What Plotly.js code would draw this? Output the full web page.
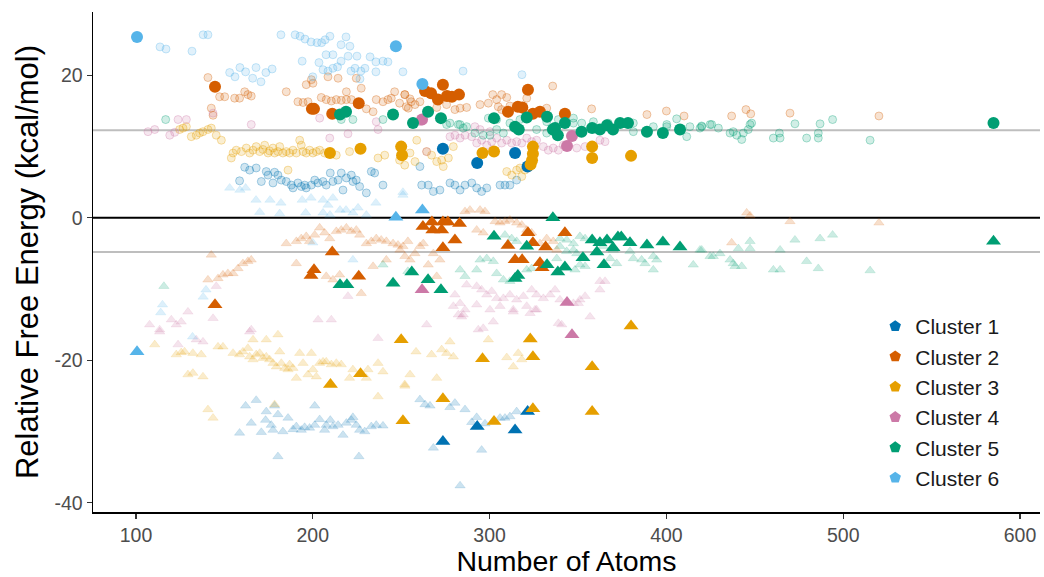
<!DOCTYPE html>
<html>
<head>
<meta charset="utf-8">
<script src="https://cdn.plot.ly/plotly-3.0.1.min.js"></script>
<style>html,body{margin:0;padding:0;background:#fff;}#chart{width:1044px;height:577px;}</style>
</head>
<body>
<div id="chart"></div>
<script>
// ---------- DATA (x = number of atoms, y = relative free energy, kcal/mol) ----------
const clusterNames = ["Cluster 1", "Cluster 2", "Cluster 3", "Cluster 4", "Cluster 5", "Cluster 6"];

// Cluster 1
const c1FadedCircles = [[161.5,7.1],[164.3,6.7],[168,7.0],[158.6,5.2],[170.9,5.1],[173.7,6.5],[174.7,6.0],[177.5,4.9],[178.4,6.4],[180.3,6.0],[182.2,5.3],[185,5.1],[187.9,4.6],[188.8,4.2],[191.6,4.9],[193.5,4.4],[195.4,4.6],[196.3,4.2],[199.2,4.6],[201.1,5.3],[202.9,4.9],[205.8,5.1],[207.6,4.6],[209.9,6.3],[211.4,5.1],[214.3,5.3],[216.1,6.3],[217.1,3.9],[219,5.6],[221.8,6.0],[222.7,5.1],[224.6,5.3],[226.5,4.4],[230.3,3.5],[233.1,6.5],[235,6.3],[239.7,4.6],[261.6,4.6],[265.3,4.6],[268.2,3.7],[271.9,3.9],[277.6,4.9],[280.4,4.6],[283.3,3.9],[286.1,4.6],[289.9,4.9],[292.7,4.2],[295.5,3.7],[298.4,4.2],[305.9,4.6],[308.7,4.6],[311.5,4.6],[315.3,5.3],[260.6,7.2]];
const c1FadedTriangles = [[162,-26.4],[168,-25.6],[173.7,-27.2],[178.4,-26.4],[180.3,-27.6],[186,-28.1],[201.1,-26.4],[158.6,-30.2],[165.2,-28.8],[170.9,-30.1],[173.3,-28.4],[176.5,-29.1],[177.5,-29.8],[183.1,-30],[188.8,-29.7],[190.7,-29.3],[193.5,-29.8],[195.4,-29.4],[198.2,-29.5],[201.1,-29.1],[203.9,-28.3],[206.7,-29.8],[207.6,-29.1],[209.9,-28.4],[211.4,-29.3],[214.3,-29.1],[217.1,-30.5],[219,-28.8],[221.8,-28.4],[222.7,-28],[224.6,-29.1],[226.5,-29.8],[229.4,-30],[233.1,-29.3],[235.9,-29.1],[239.7,-29.2],[180.3,-33.5],[226.1,-33.5],[260.6,-25.5],[263.5,-26.2],[266.3,-26.4],[277.6,-26.6],[280.4,-26],[286.1,-26.9],[289.9,-28.7],[292.7,-28],[297.4,-28.9],[305.9,-28.1],[308.7,-28.1],[311.5,-27.9],[315.3,-27.2],[268.2,-32.3],[295.5,-32.6],[283.3,-37.6]];
const c1BoldCircles = [[273.6,9.7],[293,7.7],[314.4,9.1],[321.5,7.2]];
const c1BoldTriangles = [[273.6,-31.4],[293,-29.3],[314.4,-29.8],[321.5,-27.2]];

// Cluster 2
const c2FadedCircles = [[140.7,19.7],[147.3,17],[150.2,17],[155.8,16.8],[158.6,16.8],[161.5,17.7],[163.3,17.3],[165.2,17.1],[185,17.7],[196.3,18.7],[199.2,19.4],[200.1,18.9],[208.6,19.8],[214.3,19.6],[219,17.7],[224.6,19.6],[227.4,18.2],[191.6,16.3],[194.5,16.2],[197.3,16.3],[204.8,16.9],[207.6,16.6],[210.5,16.4],[213.3,16.6],[216.1,16.5],[219,16.6],[221.8,16.6],[230.3,15.3],[234.1,14.9],[235.9,16.6],[239.7,16.3],[242.5,16.6],[244.4,16.8],[246.3,17.7],[249.1,16.1],[252,17.3],[252.9,15.6],[255.7,16.3],[142.6,15.4],[143.6,14.4],[252.1,17.3],[255,16.7],[254,15.4],[257.8,15.9],[260.6,16.3],[270.1,15.5],[275.7,15.9],[280.4,15.2],[283.3,15.4],[287,15.5],[294.6,15.9],[299.3,16.1],[301.8,17.3],[304,16.6],[306.8,17.3],[309.7,16.9],[304.9,15.6],[306.8,15.2],[311.5,15.7],[321,16.8],[335.7,18.5],[332.3,15.4],[357.7,15.3],[389,14.5],[400,15.0],[410,14.3],[436.9,14.3],[445,15.2],[447.7,14.6],[469.9,14.7],[520.2,14.3]];
const c2FadedTriangles = [[142.6,-5.2],[140.7,-8.7],[146.4,-8.5],[149.2,-8],[152,-7.8],[154.9,-7.8],[157.7,-7.1],[160.5,-6.4],[163.3,-6.1],[165.2,-5.9],[185,-3.6],[190.7,-3.3],[193.5,-2.9],[196.3,-2.6],[198.2,-3.3],[201.1,-2.4],[203.9,-1.4],[206.7,-2.1],[209.6,-2.9],[213.3,-1.9],[216.1,-1.7],[219,-1.4],[221.8,-1.9],[224.6,-1.7],[226.5,-2.4],[230.3,-3.6],[233.1,-3.3],[235.9,-2.9],[238.7,-3.1],[241.6,-3.3],[245.4,-3.6],[248.2,-3.8],[251,-4],[253.8,-3.3],[190.7,-6.4],[207.6,-8.2],[211.4,-8.7],[215.2,-8],[227.4,-10.6],[234.1,-6.8],[241.6,-5.9],[249.3,-4.5],[252.1,-5.4],[255,-5.9],[257.8,-5],[260.6,-4],[262.5,-3.6],[265.3,-6.6],[268.2,-5],[271.9,-5.9],[286.1,0.9],[288.9,1.1],[294.6,1.1],[297.4,0.9],[303.1,-0.5],[305.9,-0.7],[308.7,-0.5],[311.5,-0.3],[315.3,-0.7],[318.2,-1],[321,-1.7],[323.8,-2.1],[328.5,-3.6],[332.3,-2.9],[336,-3.3],[338,-4.5],[292.7,-1.7],[296.4,-2.1],[270.1,-8.2],[445.4,0.7],[447.3,0.3],[469.9,-0.5],[436.9,-3.5],[520.2,-0.7]];
const c2BoldCircles = [[144.7,18.4],[199.5,15.3],[200.7,15.3],[211,14.6],[226,16.1],[263.5,17.8],[266.9,17.5],[270.8,16.6],[273.6,18.7],[275.9,17.1],[278.7,17.0],[282.7,17.3],[310.4,14.9],[316,15.6],[318.5,15.5],[321.7,18.0],[324.5,14.6],[328.5,14.9],[342.6,14.6]];
const c2BoldTriangles = [[144.7,-12.2],[211,-4.8],[200.7,-7.3],[199,-8.1],[226,-8.2],[262.3,-1.2],[267.4,-0.6],[267.9,-1.7],[272.9,-1.7],[273.6,-0.6],[276.4,-0.6],[280.4,-3.1],[283,-0.8],[273.6,-4.2],[310.4,-3.9],[314.4,-5.9],[318.4,-5.9],[321.7,-2.1],[324.5,-3.5],[328.5,-6.3],[329.7,-7],[331.7,-4.1],[342.6,-2.1]];

// Cluster 3
const c3FadedCircles = [[124.7,12.4],[126.6,12.6],[128.5,12.8],[131.3,11.4],[134.1,11.6],[136,11.9],[137.9,12.1],[140.7,12.4],[142.6,12.6],[145.4,11.6],[148.3,10.9],[154.9,9.1],[156.7,9.5],[153.9,8.4],[159.6,9.3],[162.4,9.8],[164.3,9.1],[166.2,9.5],[168,10],[170,9.3],[171.8,9.6],[172.8,10.2],[174.7,9.1],[175.6,9.4],[177.5,9.8],[178.4,9.1],[180.3,9.3],[181.3,10],[183.1,9.1],[185,9.3],[186.9,9.1],[188.8,9.5],[190.7,9.1],[192.6,10.9],[193.5,10.2],[194.5,9.3],[196.3,9.1],[198.2,9.5],[200.1,9.1],[202,9.3],[203.9,9.5],[206.7,9.1],[213.3,8.8],[220.8,9.3],[236.9,8.4],[240.7,8.8],[249.1,8.1],[252,7.4],[186,6.7],[255,9.1],[257.8,7.9],[258.8,10.9],[264.4,9.3],[267.2,8.8],[270.1,7.9],[272.9,8.1],[276.7,8.4],[279.5,10],[273.8,7.2],[309.7,6.5],[312.5,6.0],[315.3,6.7],[317.2,7.0],[318.2,5.8],[320,6.7]];
const c3FadedTriangles = [[110.6,-17.8],[122.8,-19.2],[125.6,-18.9],[127.5,-18.8],[132.2,-19],[136.9,-19.2],[146.4,-18.1],[149.2,-18.1],[154.9,-19],[158.6,-19.2],[160.5,-18.8],[163.3,-18.3],[164.3,-19.5],[166.2,-19.9],[168,-19.2],[170,-19],[171.8,-19.7],[173.7,-19.5],[175.6,-19.9],[177.5,-20.4],[179.4,-20.9],[173.7,-17.1],[181.3,-18.8],[182.2,-20.4],[184.1,-21.1],[186,-21.3],[186.9,-20.6],[188.8,-21.1],[190.7,-22.5],[192.6,-19],[194.5,-20.4],[197.3,-22],[199.2,-19],[200.1,-21.3],[202,-22.3],[203.9,-20.4],[205.8,-20.2],[207.6,-20.2],[210.5,-20.6],[213.3,-20.4],[216.1,-20.6],[220.8,-22.5],[222.7,-21.3],[231.2,-21.3],[230.3,-22.5],[236.9,-20.4],[239.7,-21.6],[252,-23.4],[236.9,-25.1],[129.4,-22],[132.2,-21.8],[137.9,-22.3],[140.7,-26.9],[143.6,-28.1],[178.4,-26.2],[180.3,-16.4],[166.2,-17.1],[258.4,-18.8],[267.2,-19.2],[272.9,-18.5],[277.6,-17.4],[279.5,-19.5],[275.7,-19],[299.3,-17.1],[309.7,-19.6],[313.4,-20.9],[316.2,-19],[318.2,-19.9],[255,-22],[252.1,-23.6],[270.1,-22.5]];
const c3BoldCircles = [[209.7,9.1],[227,9.7],[250,10],[250.5,8.8],[296,9.1],[302.5,9.3],[324.5,10.0],[324.5,9.0],[324,8.1],[323.2,7.5],[358,10],[358,8.4],[380,8.7]];
const c3BoldTriangles = [[250,-17.1],[227,-21.9],[210,-23.4],[251,-28.5],[323,-17],[324.5,-19.5],[296,-19.8],[358,-20.9],[380,-15.2],[273.6,-25.4],[302.5,-28.6],[324.5,-26.8],[358,-27.2]];

// Cluster 4
const c4FadedCircles = [[260.6,13.5],[277.6,11.4],[280.4,11.6],[283.3,11.2],[286.1,11.6],[289.9,11.4],[292.7,10.5],[295.5,10.9],[298.4,10.2],[301.2,10.7],[304,11.2],[306.8,10.5],[309.7,10.9],[312.5,10.5],[315.3,10.7],[318.2,10.5],[321,11.2],[323.8,10.7],[326.6,10.9],[330.4,10],[333.2,9.5],[336,9.8],[338.9,9.5],[341.7,10.2],[349.3,9.8],[354,10],[362.4,10.9],[365.3,10.7],[264.4,9.3],[291.7,12.8],[294.6,12.4],[300.2,12.1],[106.8,12.1],[110.6,12.4],[119.1,11.6],[121.9,12],[165.2,13.1],[209.6,11.2],[219.9,11.8],[236.9,12.4],[123.8,13.8],[128.5,13.8],[143.6,14.7],[203.9,14],[235.9,13.5]];
const c4FadedTriangles = [[107.7,-15],[113.4,-15.7],[120,-14.3],[122.8,-15],[125.6,-14.6],[129.4,-13.2],[143.6,-14.1],[145.4,-9.6],[165.2,-15.7],[203,-14.3],[210.5,-14.3],[219.9,-11],[113.4,-16],[123.8,-17.8],[134.1,-17.1],[137.9,-17.4],[164.3,-16],[236.9,-16.9],[287,-9.4],[292.7,-9.6],[295.5,-10.1],[298.4,-10.8],[301.2,-10.3],[304,-11.3],[307.8,-11.3],[311.5,-10.8],[315.3,-11.5],[319.1,-11],[323.8,-10.1],[326.6,-10.8],[330.4,-11.3],[334.2,-10.8],[337,-10.1],[339.8,-11.5],[347.4,-12],[351.1,-11.5],[354,-11],[362.4,-8.9],[365.3,-8.9],[362.4,-10.1],[280.4,-10.8],[283.3,-12],[286.1,-12.9],[292.7,-12.2],[300.2,-12.9],[305.9,-12.4],[313.4,-12.9],[321,-12.4],[325.7,-12.9],[279.5,-12.4],[284.2,-13.9],[293.6,-15.7],[296.4,-15.5],[322.9,-13.4],[338.9,-14.8],[356.8,-13.9],[264.4,-15],[282.3,-13.6],[285.1,-13.6],[302.1,-14.6],[313.4,-13.2],[326.6,-12.9],[340.8,-15],[350.2,-12]];
const c4BoldCircles = [[261.8,13.8],[343.8,10.1],[346.6,11.5]];
const c4BoldTriangles = [[261.8,-10.1],[343.8,-11.9],[346.6,-16.4]];

// Cluster 5
const c5FadedCircles = [[116.8,13.8],[216.1,13.8],[222.7,13.8],[239.7,13.8],[277.6,13.3],[283.3,13.1],[287,12.8],[299.3,14],[304,13.8],[311.5,13.3],[317.2,13.8],[332.3,13.5],[338.9,13.8],[347.4,14],[352.1,13.3],[358.7,13.5],[367.1,13.3],[381.3,13.3],[392.6,12.8],[400.2,13.1],[405.8,13.9],[413.3,12.8],[419.9,12.9],[425.6,13.1],[275.7,13.1],[282.3,13.1],[285.1,12.6],[291.7,11.9],[296.4,11.6],[300.2,11.6],[304,12.4],[307.8,11.9],[326.6,12.4],[332.3,11.9],[347.4,13.3],[381.3,12.1],[400.2,12.8],[411.5,11.4],[419,12.6],[420,12.8],[424.7,13.1],[429.4,12.6],[436,11.9],[437.8,12.1],[439.8,11.6],[442.6,11],[443.5,11.9],[446.3,12.4],[447.3,13.1],[448.2,13.3],[460.5,11.2],[463.9,11.9],[464.3,11.2],[472.7,13.2],[479.3,11.2],[485.9,11.9],[485.9,11.2],[486.9,13.2],[494,13.8],[515.2,10.9]];
const c5FadedTriangles = [[115.8,-9.6],[239.7,-6.6],[253.8,-7.5],[308.7,-2.4],[312.5,-2.9],[315.3,-3.3],[339.8,-2.9],[343.6,-3.1],[347.4,-3.6],[351.1,-2.6],[354,-2.9],[339.8,-4],[343.6,-4.7],[347.4,-4.5],[349.3,-5],[294.6,-5.9],[298.4,-5.7],[302.1,-6.1],[283.3,-7.3],[286.1,-8.2],[292.7,-7.3],[304,-7.8],[307.8,-8.7],[311.5,-8.9],[321,-7.3],[323.8,-7.1],[332.3,-6.6],[338,-5.7],[343.6,-7.1],[348.3,-7.3],[351.1,-6.6],[354,-6.8],[368.1,-5.7],[371.9,-6.4],[381.3,-5.7],[386,-5.9],[392.6,-5.4],[394.5,-5.9],[387.9,-6.4],[392.6,-7.3],[415.2,-6.6],[419,-4.5],[426.5,-5.4],[370,-4.5],[379.4,-4.7],[364.3,-4],[420,-4.5],[424.7,-5.4],[430.3,-5],[436,-5.9],[437.8,-6.4],[438.8,-6.8],[442.6,-6.8],[440.7,-4.3],[447.3,-3.3],[447.3,-4.3],[464.3,-4.5],[460.5,-7.3],[464.3,-7.3],[472.7,-3.1],[479.3,-6.1],[485.9,-7.1],[486.9,-2.9],[494,-2.4],[515.2,-7.4]];
const c5BoldCircles = [[215.4,14.5],[218.8,14.9],[245.4,14.5],[256.7,13.3],[265.2,14.9],[272.5,14.0],[302.5,14.0],[314.4,12.8],[316.5,12.4],[321,14.1],[332.5,14.2],[337,12.6],[342.6,13.3],[335.8,12.4],[338.6,11.6],[352,12.1],[358,12.6],[362.4,12.4],[366.4,13],[369.8,12.4],[373.8,13.3],[378.3,13.3],[389,12.1],[398,11.9],[407.7,12.4],[585,13.3]];
const c5BoldTriangles = [[215.4,-9.4],[219.3,-9.4],[245.4,-9.2],[256,-7.6],[265.2,-8.7],[272.5,-10.1],[302.5,-2.6],[314.4,-8.5],[316,-8.1],[321,-4.0],[332.5,-6.6],[338.6,-7.6],[342.6,-6.9],[335.8,0.0],[352.8,-5.6],[358,-3.1],[360.7,-4.8],[362.4,-3.5],[364.7,-6.6],[366.4,-3.1],[369.8,-4.2],[372.6,-2.7],[374.5,-2.7],[379.4,-3.5],[389,-3.8],[398,-3.4],[407.7,-4.1],[585,-3.3]];

// Cluster 6
const c6FadedCircles = [[138,25.7],[140.7,25.7],[113.6,24],[117,23.7],[131.7,23.4],[182,25.7],[190,25.7],[192.8,25.5],[195.6,25.1],[199,24.7],[202.4,24.6],[205,24.6],[207,25],[209.7,25.5],[207.5,22.9],[211.4,22.9],[216,24.3],[218.8,25.4],[221,24.1],[194,22],[203.5,21.8],[205.8,20.8],[208.6,20.6],[211.4,21],[214,21.2],[216,22],[220,22.7],[225,22.7],[223.9,21],[221.6,20.6],[227.2,20.6],[229.5,21],[232.4,22.6],[235.7,21.9],[239.7,22],[242.5,21.9],[235.7,20.5],[226.7,19.5],[251,20.5],[153,20.4],[156,19.8],[158.8,21.1],[162,20.5],[166,19.6],[167.9,21.1],[170.7,19.1],[173.5,20.4],[177,20.9],[200,19.8],[285,20.6],[318.3,20.1]];
const c6FadedTriangles = [[153,4.2],[158.8,3.9],[162,4.2],[167.9,2.5],[175.8,2.5],[182,2.1],[194,2.5],[199,2.8],[205.8,2.5],[208.6,1.8],[211.4,2.8],[215.4,1.1],[218.8,1.1],[225.6,1.4],[235.7,2.1],[251,3.6],[170,0.8],[181.3,0.6],[196,0.7],[205.8,0.7],[209.7,0.4],[222.7,0.7],[230.3,0.4],[200,-3.5],[222.7,-5.9],[139.6,-10.1],[138,-11.1],[115,-12.2],[114,-13.3],[132,-16.7],[251,3.2]];
const c6BoldCircles = [[100.6,25.4],[247,24.1],[262,18.8]];
const c6BoldTriangles = [[100.6,-18.8],[247,0.1],[262,1.1]];

// reference lines (kcal/mol)
const zeroLine = 0;
const upperRefLine = 12.3;
const lowerRefLine = -4.8;

const xTicks = [100, 200, 300, 400, 500, 600];
const yTicks = [-40, -20, 0, 20];

// ---------- STYLE ----------
const colors = ["0,114,178", "213,94,0", "230,159,0", "204,121,167", "0,158,115", "86,180,233"];
const hexColors = ["#0072B2", "#D55E00", "#E69F00", "#CC79A7", "#009E73", "#56B4E9"];

const groups = [
  [c1FadedCircles, c1FadedTriangles, c1BoldCircles, c1BoldTriangles],
  [c2FadedCircles, c2FadedTriangles, c2BoldCircles, c2BoldTriangles],
  [c3FadedCircles, c3FadedTriangles, c3BoldCircles, c3BoldTriangles],
  [c4FadedCircles, c4FadedTriangles, c4BoldCircles, c4BoldTriangles],
  [c5FadedCircles, c5FadedTriangles, c5BoldCircles, c5BoldTriangles],
  [c6FadedCircles, c6FadedTriangles, c6BoldCircles, c6BoldTriangles]
];

const xs = a => a.map(p => p[0]);
const ys = a => a.map(p => p[1]);

const traces = [];
// faded layer
groups.forEach((g, i) => {
  traces.push({x: xs(g[0]), y: ys(g[0]), type: 'scatter', mode: 'markers', showlegend: false, hoverinfo: 'x+y',
    marker: {symbol: 'circle', size: 8, color: `rgba(${colors[i]},0.18)`, line: {color: `rgba(${colors[i]},0.32)`, width: 1}}});
  traces.push({x: xs(g[1]), y: ys(g[1]), type: 'scatter', mode: 'markers', showlegend: false, hoverinfo: 'x+y',
    marker: {symbol: 'triangle-up', size: 9, color: `rgba(${colors[i]},0.2)`, line: {color: `rgba(${colors[i]},0.25)`, width: 0.5}}});
});
// bold layer
groups.forEach((g, i) => {
  traces.push({x: xs(g[2]), y: ys(g[2]), type: 'scatter', mode: 'markers', showlegend: false, hoverinfo: 'x+y',
    marker: {symbol: 'circle', size: 12, color: hexColors[i], line: {width: 0}}});
  traces.push({x: xs(g[3]), y: ys(g[3]), type: 'scatter', mode: 'markers', showlegend: false, hoverinfo: 'x+y',
    marker: {symbol: 'triangle-up', size: 13, color: hexColors[i], line: {width: 0}}});
});
// legend entries
clusterNames.forEach((n, i) => {
  traces.push({x: [null], y: [null], type: 'scatter', mode: 'markers', name: n, showlegend: true,
    marker: {symbol: 'pentagon', size: 12, color: hexColors[i]}});
});

const layout = {
  width: 1044, height: 577,
  paper_bgcolor: '#ffffff', plot_bgcolor: '#ffffff',
  margin: {l: 93, r: 4, t: 12, b: 65, pad: 0},
  font: {family: 'Liberation Sans, Arial, sans-serif', color: '#000'},
  showlegend: true,
  legend: {x: 0.826, y: 0.412, xanchor: 'left', yanchor: 'top', bgcolor: 'rgba(0,0,0,0)',
    font: {size: 21, color: '#1a1a1a'}, tracegroupgap: 0, itemwidth: 30},
  xaxis: {
    range: [75.7, 611.3], tickvals: xTicks, ticktext: xTicks.map(String),
    showgrid: false, zeroline: false, showline: true, linecolor: '#000', linewidth: 1.5,
    ticks: 'outside', ticklen: 5, tickwidth: 1.2, tickcolor: '#333',
    tickfont: {size: 19.5, color: '#4D4D4D'},
    title: {text: 'Number of Atoms', font: {size: 28.5, color: '#000'}, standoff: 10}
  },
  yaxis: {
    range: [-41.3, 28.9], tickvals: yTicks, ticktext: yTicks.map(String),
    showgrid: false, zeroline: false, showline: true, linecolor: '#000', linewidth: 1.5,
    ticks: 'outside', ticklen: 5, tickwidth: 1.2, tickcolor: '#333',
    tickfont: {size: 19.5, color: '#4D4D4D'},
    title: {text: 'Relative Free Energy (kcal/mol)', font: {size: 31, color: '#000'}, standoff: 6}
  },
  shapes: [
    {type: 'line', xref: 'paper', x0: 0, x1: 1, yref: 'y', y0: upperRefLine, y1: upperRefLine, layer: 'below', line: {color: '#BEBEBE', width: 2}},
    {type: 'line', xref: 'paper', x0: 0, x1: 1, yref: 'y', y0: lowerRefLine, y1: lowerRefLine, layer: 'below', line: {color: '#BEBEBE', width: 2}},
    {type: 'line', xref: 'paper', x0: 0, x1: 1, yref: 'y', y0: zeroLine, y1: zeroLine, layer: 'below', line: {color: '#000', width: 2}}
  ]
};

Plotly.newPlot('chart', traces, layout, {displayModeBar: false, staticPlot: true});
</script>
</body>
</html>
